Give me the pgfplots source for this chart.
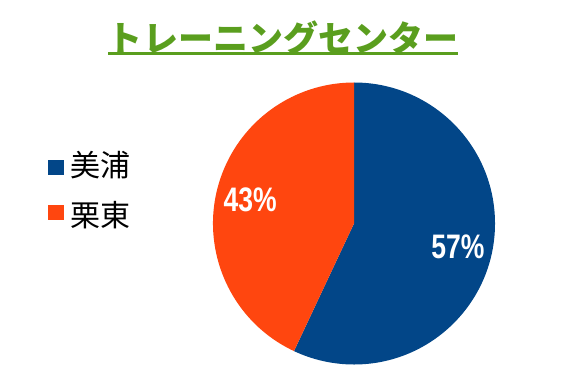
\documentclass[border=0pt]{standalone}
\usepackage{pgfplots}
\pgfplotsset{compat=1.18}
\usepackage{pgfplotstable}
\usepackage{fontspec}
\setmainfont{Liberation Sans}
\newfontfamily\jp{Noto Sans CJK JP}
\definecolor{miura}{RGB}{2,70,136}
\definecolor{ritto}{RGB}{255,70,15}
\definecolor{titlegreen}{RGB}{90,158,30}
\pgfplotstableread{
label value
Miho 57
Ritto 43
}\piedata
\begin{document}
\begin{tikzpicture}[x=1bp,y=1bp]
\useasboundingbox (0,0) rectangle (567,378);
\pgfplotstablegetelem{0}{value}\of\piedata \edef\va{\pgfplotsretval}
\pgfplotstablegetelem{1}{value}\of\piedata \edef\vb{\pgfplotsretval}
\pgfmathsetmacro\aone{90-3.6*\va}
\pgfmathsetmacro\midone{90-1.8*\va}
\pgfmathsetmacro\midtwo{\aone-1.8*\vb}
\begin{axis}[hide axis, x=141bp, y=141bp, xmin=-1, xmax=1, ymin=-1, ymax=1,
  anchor=center, at={(354bp,154.5bp)}, clip=false]
\fill[miura] (axis cs:0,0) -- (axis cs:0,1) arc[start angle=90, end angle=\aone, radius=141bp] -- cycle;
\fill[ritto] (axis cs:0,0) -- (axis cs:{cos(\aone)},{sin(\aone)}) arc[start angle=\aone, end angle=-270, radius=141bp] -- cycle;
\node[text=white, font=\fontsize{34bp}{36bp}\selectfont\bfseries] at (axis cs:{0.755*cos(\midone)},{0.755*sin(\midone)}) {\scalebox{0.78}[1]{\va\%}};
\node[text=white, font=\fontsize{34bp}{36bp}\selectfont\bfseries] at (axis cs:{0.755*cos(\midtwo)},{0.755*sin(\midtwo)}) {\scalebox{0.78}[1]{\vb\%}};
\end{axis}
\node[anchor=base, inner sep=0, text=titlegreen, font={\jp\fontsize{35bp}{40bp}\selectfont\bfseries}] at (283,327) {トレーニングセンター};
\draw[titlegreen, line width=2.5bp] (108,324.5) -- (458,324.5);
\fill[miura] (48.3,203) rectangle (63.5,218);
\fill[ritto] (48,158) rectangle (64,173);
\node[anchor=base west, inner sep=0, font={\jp\fontsize{30bp}{34bp}\selectfont}] at (70.5,202) {美浦};
\node[anchor=base west, inner sep=0, font={\jp\fontsize{30bp}{34bp}\selectfont}] at (70.5,152) {栗東};
\end{tikzpicture}
\end{document}
